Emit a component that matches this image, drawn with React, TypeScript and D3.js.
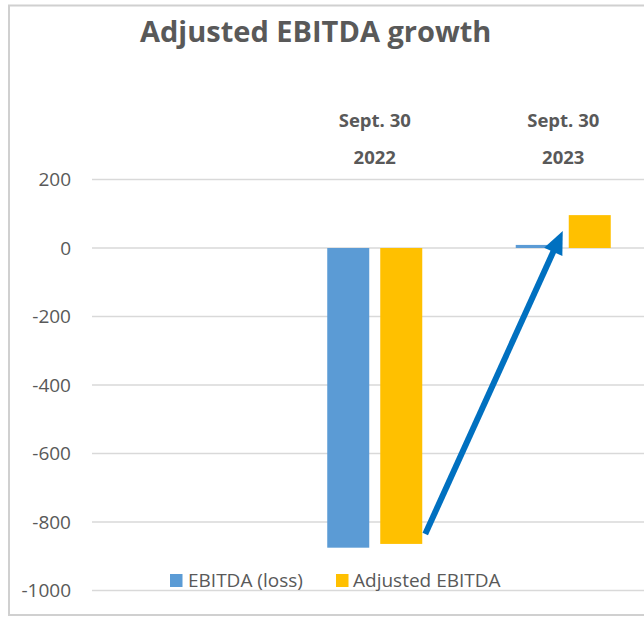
import React from "react";
import * as d3 from "d3";

const categories = ["", "2022", "2023"];
const categoryTop = ["", "Sept. 30", "Sept. 30"];
const seriesNames = ["EBITDA (loss)", "Adjusted EBITDA"];
const ebitda = [null, -875, 9];
const adjustedEbitda = [null, -864, 96];
const yTicks = [200, 0, -200, -400, -600, -800, -1000];
const arrowFrom = { cat: "2022", value: -835 };
const arrowTo = { cat: "2023", value: 50 };

const colors = ["#5B9BD5", "#FFC000"];
const textColor = "#595959";
const font = "'Open Sans', 'Noto Sans', sans-serif";

export default function App() {
  const W = 644;
  const H = 618;
  const x = d3.scaleBand<string>().domain(categories).range([92, 657.5]).padding(0);
  const bw = x.bandwidth();
  const outer = bw * 0.248;
  const x1 = d3
    .scaleBand<string>()
    .domain(seriesNames)
    .range([outer, bw - outer])
    .paddingInner(0.2075)
    .paddingOuter(0);
  const y = d3.scaleLinear().domain([-1000, 200]).range([590.5, 179.5]);
  const values = [ebitda, adjustedEbitda];

  // arrow geometry from data
  const tail: [number, number] = [
    (x(arrowFrom.cat) as number) + (x1(seriesNames[1]) as number) + x1.bandwidth() + 3,
    y(arrowFrom.value),
  ];
  const tip: [number, number] = [
    (x(arrowTo.cat) as number) + (x1(seriesNames[1]) as number) - 6,
    y(arrowTo.value),
  ];
  const dx = tip[0] - tail[0];
  const dy = tip[1] - tail[1];
  const len = Math.hypot(dx, dy);
  const ux = dx / len;
  const uy = dy / len;
  const headLen = 23;
  const headHalf = 10;
  const base: [number, number] = [tip[0] - ux * headLen, tip[1] - uy * headLen];
  const px = -uy;
  const py = ux;
  const head = [
    [tip[0], tip[1]],
    [base[0] + px * headHalf, base[1] + py * headHalf],
    [base[0] - px * headHalf, base[1] - py * headHalf],
  ];

  return (
    <svg
      width={W}
      height={H}
      style={{ position: "absolute", left: 0, top: 0, background: "#fff" }}
      fontFamily={font}
    >
      <rect x={9} y={5.5} width={700} height={609.5} fill="#fff" stroke="#d0d0d0" strokeWidth={2} />
      <text x={140} y={42} fontSize={29} fontWeight="bold" fill={textColor}>
        Adjusted EBITDA growth
      </text>
      {yTicks.map((t) => (
        <g key={t}>
          <line x1={92} x2={W} y1={y(t)} y2={y(t)} stroke="#d9d9d9" strokeWidth={1.5} />
          <text x={71} y={y(t)} dy="0.35em" textAnchor="end" fontSize={19} fill={textColor}>
            {t}
          </text>
        </g>
      ))}
      {categories.map((c, i) => (
        <g key={"cat" + i}>
          <text
            x={(x(c) as number) + bw / 2}
            y={127}
            textAnchor="middle"
            fontSize={18.5}
            fontWeight="bold"
            fill={textColor}
          >
            {categoryTop[i]}
          </text>
          <text
            x={(x(c) as number) + bw / 2}
            y={164}
            textAnchor="middle"
            fontSize={18.5}
            fontWeight="bold"
            fill={textColor}
          >
            {c}
          </text>
        </g>
      ))}
      {categories.map((c, i) =>
        seriesNames.map((s, si) => {
          const v = values[si][i];
          if (v === null || v === undefined) return null;
          const y0 = y(0);
          const yv = y(v);
          return (
            <rect
              key={c + s}
              x={(x(c) as number) + (x1(s) as number)}
              width={x1.bandwidth()}
              y={Math.min(y0, yv)}
              height={Math.abs(yv - y0)}
              fill={colors[si]}
            />
          );
        })
      )}
      <line
        x1={tail[0]}
        y1={tail[1]}
        x2={base[0] + ux * 2}
        y2={base[1] + uy * 2}
        stroke="#0070C0"
        strokeWidth={6}
      />
      <polygon points={head.map((p) => p.join(",")).join(" ")} fill="#0070C0" />
      {/* legend */}
      <g>
        <rect x={170} y={574} width={12.5} height={13} fill={colors[0]} />
        <text x={188} y={587} fontSize={19} fill={textColor}>
          {seriesNames[0]}
        </text>
        <rect x={336} y={574} width={12.5} height={13} fill={colors[1]} />
        <text x={353} y={587} fontSize={19} fill={textColor}>
          {seriesNames[1]}
        </text>
      </g>
    </svg>
  );
}
